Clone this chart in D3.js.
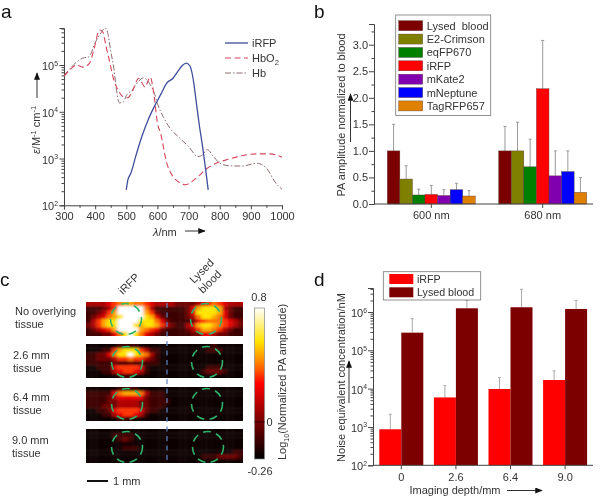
<!DOCTYPE html>
<html><head><meta charset="utf-8">
<script src="https://cdn.jsdelivr.net/npm/d3@7"></script>
<style>
html,body{margin:0;padding:0;background:#fff}
svg{display:block;filter:blur(0.35px)}
text{font-family:"Liberation Sans",Arial,sans-serif;fill:#333}
</style></head><body>
<script>
// Panel a: spectra
const iRFPLambda=[500,505,515,530,550,570,590,610,630,650,665,680,693,705,715,725,735,745,755,763];
const iRFPValues=[214,350,490,1100,2950,6700,12900,23000,41000,52000,72000,98000,110000,94000,49000,15500,4900,1800,570,214];
const hbo2Lambda=[300,320,340,360,380,395,410,415,425,435,445,460,475,490,505,520,540,560,577,590,600,610,630,650,670,690,710,730,760,790,830,870,920,960,1000];
const hbo2Values=[57000,80000,100000,90000,105000,200000,500000,560000,500000,250000,130000,48000,28000,21000,20000,28000,52000,34000,55000,20000,5800,3500,800,410,310,275,320,410,620,800,970,1150,1260,1260,1070];
const hbLambda=[300,320,340,360,380,400,420,432,440,450,460,470,478,490,500,520,540,555,575,590,600,620,640,670,700,730,745,760,780,800,830,870,920,950,980,1000];
const hbValues=[60000,85000,115000,140000,150000,300000,500000,620000,500000,200000,85000,25000,15500,16000,22000,30000,45000,53000,40000,25000,15000,7500,4500,2800,1800,1100,1200,1550,1100,800,700,690,790,620,300,220];
const aXTicks=[300,400,500,600,700,800,900,1000];
const aYTicks=[100,1000,10000,100000];
// Panel b
const bGroups=["600 nm","680 nm"];
const bSeries=["Lysed  blood","E2-Crimson","eqFP670","iRFP","mKate2","mNeptune","TagRFP657"];
const bColors=["#7d0000","#808000","#008000","#ff0000","#8000b0","#0000ff","#e08000"];
const b600=[1.0,0.47,0.17,0.18,0.16,0.27,0.15];
const b600Top=[1.5,0.72,0.28,0.35,0.27,0.39,0.25];
const b680=[1.0,1.0,0.7,2.17,0.53,0.61,0.22];
const b680Top=[1.46,1.54,1.22,3.08,1.0,1.0,0.5];
const bYTicks=[0,0.5,1,1.5,2,2.5,3];
// Panel c: heat grids, one digit per cell, 0 = dark, 9 = white
const heatNoTissue=[
"33334 56776 65433 33222 23456 54333",
"11123 59999 96311 11112 47888 73211",
"11235 79999 97521 11112 48888 74211",
"12346 78999 98742 11112 36887 64211",
"13578 89999 88864 21111 24566 65432",
"23578 89998 78875 32113 47887 65432",
"12345 79999 76542 11112 35776 53211",
"11122 46898 64321 11111 22443 22111"];
const heat26=[
"00000 01111 00000 00000 00001 00000",
"00011 57888 53110 00000 00011 10000",
"11224 68898 76310 00000 00000 00000",
"11222 35565 53210 00000 00000 00000",
"11111 21121 11110 00000 00000 00000",
"00111 45555 41000 00000 00011 10000",
"00011 34554 31000 00000 00122 21000",
"00000 01110 00000 00000 00000 00000"];
const heat64=[
"00000 01111 00000 00000 00000 00000",
"11111 46777 63111 00000 00000 00000",
"11112 34444 42111 00000 00000 00000",
"11112 23333 22111 10000 00000 00000",
"11122 23333 22111 00000 00000 00000",
"00112 45555 42110 00000 00000 00000",
"00011 34554 31000 00000 00000 00000",
"00000 01110 00000 00000 00000 00000"];
const heat90=[
"00000 00000 00000 00000 00000 00000",
"00000 11110 00000 00000 00000 00000",
"00000 01210 00000 00000 00000 00000",
"00000 00000 00000 00000 00000 00000",
"00000 00111 00000 00000 00000 00000",
"00000 00000 00000 00000 00000 00011",
"00000 00000 00000 00000 00111 22221",
"00000 00000 00000 00000 00000 00000"];
const heatColors=["#0c0000","#3c0000","#700000","#b00000","#e60000","#ff3000","#ff7400","#ffaa00","#ffe400","#ffffff"];
const heatRowsLabels=[["No overlying","tissue"],["2.6 mm","tissue"],["6.4 mm","tissue"],["9.0 mm","tissue"]];
// Panel d
const dGroups=["0","2.6","6.4","9.0"];
const dSeries=["iRFP","Lysed blood"];
const dColors=["#ff0000","#7d0000"];
const dIRFP=[870,5900,9800,16800];
const dIRFPTop=[2140,12000,19400,29000];
const dLysed=[289000,1250000,1330000,1200000];
const dLysedTop=[670000,2000000,3900000,2000000];
const dYTicks=[100,1000,10000,100000,1000000];

const svg=d3.select("body").append("svg").attr("width",600).attr("height",497);
const defs=svg.append("defs");
defs.append("marker").attr("id","ah").attr("viewBox","0 0 10 8").attr("refX",9).attr("refY",4)
 .attr("markerWidth",8).attr("markerHeight",6).attr("markerUnits","userSpaceOnUse").attr("orient","auto")
 .append("path").attr("d","M0,0L10,4L0,8Z").attr("fill","#111");
const AX="#444";
function arrow(x1,y1,x2,y2){svg.append("line").attr("x1",x1).attr("y1",y1).attr("x2",x2).attr("y2",y2)
 .attr("stroke","#333").attr("stroke-width",1).attr("marker-end","url(#ah)");}
function letter(t,x,y){svg.append("text").text(t).attr("x",x).attr("y",y).attr("font-size",19).style("fill","#111");}
function txt(t,x,y,o={}){return svg.append("text").text(t).attr("x",x).attr("y",y).attr("font-size",o.size||11)
 .attr("text-anchor",o.anchor||"start").attr("transform",o.rot?`rotate(${o.rot} ${x} ${y})`:null);}
function powTick(v,xRight,y,size){const e=Math.round(Math.log10(v));
 const t=svg.append("text").attr("x",xRight).attr("y",y).attr("text-anchor","end").attr("font-size",size);
 t.append("tspan").text("10");
 t.append("tspan").text(e).attr("font-size",size*0.62).attr("dy",-4.5);}
function logMinor(dom){const out=[];for(let e=Math.ceil(Math.log10(dom[0]));10**e<dom[1];e++)
 for(let m=2;m<10;m++){const v=m*10**e;if(v<dom[1])out.push(v);}return out;}

// ---------- a ----------
letter("a",1,17.5);
const ax=d3.scaleLinear().domain([300,1000]).range([64,282]);
const ay=d3.scaleLog().domain([100,100000]).range([205.3,65]);
const aTop=ay.invert(28);
const aAxisX=svg.append("g").attr("transform","translate(0,205.3)")
 .call(d3.axisBottom(ax).tickValues(aXTicks).tickFormat(d3.format("d")).tickSize(4).tickPadding(3));
aAxisX.selectAll("text").attr("font-size",11);
aAxisX.selectAll("path,line").attr("stroke",AX);
const aMinorX=svg.append("g").attr("transform","translate(0,205.3)")
 .call(d3.axisBottom(ax).tickValues(d3.range(350,1000,100)).tickFormat("").tickSize(2.5));
aMinorX.select("path").remove();aMinorX.selectAll("line").attr("stroke",AX);
const ayScaleFull=ay.copy().domain([100,aTop]).range([205.3,28]);
const aAxisY=svg.append("g").attr("transform","translate(64,0)")
 .call(d3.axisLeft(ayScaleFull).tickValues(aYTicks).tickFormat("").tickSize(4.5));
aAxisY.selectAll("path,line").attr("stroke",AX);
const aMinY=svg.append("g").attr("transform","translate(64,0)")
 .call(d3.axisLeft(ayScaleFull).tickValues(logMinor([100,aTop])).tickFormat("").tickSize(2.5));
aMinY.select("path").remove();aMinY.selectAll("line").attr("stroke",AX);
aYTicks.forEach(v=>powTick(v,58,ay(v)+5,11));
const mkLine=d3.line().x(d=>ax(d[0])).y(d=>ay(d[1])).curve(d3.curveMonotoneX);
const aSeries=[
 {l:hbLambda,v:hbValues,c:"#8d6d6f",d:"6 2 1.5 2",w:1},
 {l:hbo2Lambda,v:hbo2Values,c:"#d5455c",d:"6 3.5",w:1.1},
 {l:iRFPLambda,v:iRFPValues,c:"#3f4d9c",d:null,w:1.3}];
aSeries.forEach(s=>svg.append("path").attr("d",mkLine(s.l.map((x,i)=>[x,s.v[i]]))).attr("fill","none")
 .attr("stroke",s.c).attr("stroke-width",s.w).attr("stroke-dasharray",s.d));
[[iRFPLambda,"#3f4d9c",null,1.3,43,"iRFP"],[hbo2Lambda,"#d5455c","6 3.5",1.1,58,"HbO"],[hbLambda,"#8d6d6f","6 2 1.5 2",1,73,"Hb"]].forEach(r=>{
 svg.append("line").attr("x1",225).attr("x2",248).attr("y1",r[4]).attr("y2",r[4]).attr("stroke",r[1]).attr("stroke-width",r[3]).attr("stroke-dasharray",r[2]);
 const t=txt(r[5],252,r[4]+4,{size:11});
 if(r[5]==="HbO")t.append("tspan").text("2").attr("font-size",7.5).attr("dy",3);
});
const aYL=svg.append("text").attr("transform","translate(40,154) rotate(-90)").attr("font-size",11);
aYL.append("tspan").text("ε").attr("font-style","italic");
aYL.append("tspan").text("/M");
aYL.append("tspan").text("-1").attr("font-size",7.5).attr("dy",-4);
aYL.append("tspan").text(" cm").attr("dy",4);
aYL.append("tspan").text("-1").attr("font-size",7.5).attr("dy",-4);
arrow(37,98,37,73);
const aXL=svg.append("text").attr("x",153).attr("y",236).attr("font-size",11);
aXL.append("tspan").text("λ").attr("font-style","italic");
aXL.append("tspan").text("/nm");
arrow(185,231,205,231);

// ---------- b ----------
letter("b",314,17.5);
const bx=d3.scaleBand().domain(bGroups).range([375.6,598.4]).paddingInner(0.21).paddingOuter(0.105);
const bx1=d3.scaleBand().domain(bSeries).range([0,bx.bandwidth()]);
const by=d3.scaleLinear().domain([0,3]).range([204,44.7]);
const bTopVal=by.invert(24);
const byFull=by.copy().domain([0,bTopVal]).range([204,24]);
const bData=[[b600,b600Top],[b680,b680Top]];
bGroups.forEach((g,gi)=>{
 const grp=svg.append("g").attr("transform",`translate(${bx(g)},0)`);
 grp.selectAll("line.e").data(bSeries).join("line").attr("x1",s=>bx1(s)+bx1.bandwidth()/2).attr("x2",s=>bx1(s)+bx1.bandwidth()/2)
  .attr("y1",(s,i)=>by(bData[gi][0][i])).attr("y2",(s,i)=>by(bData[gi][1][i])).attr("stroke","#999").attr("stroke-width",1);
 grp.selectAll("line.c").data(bSeries).join("line").attr("x1",s=>bx1(s)+bx1.bandwidth()/2-1.5).attr("x2",s=>bx1(s)+bx1.bandwidth()/2+1.5)
  .attr("y1",(s,i)=>by(bData[gi][1][i])).attr("y2",(s,i)=>by(bData[gi][1][i])).attr("stroke","#999").attr("stroke-width",1);
 grp.selectAll("rect").data(bSeries).join("rect").attr("x",s=>bx1(s)).attr("width",bx1.bandwidth())
  .attr("y",(s,i)=>by(bData[gi][0][i])).attr("height",(s,i)=>204-by(bData[gi][0][i]))
  .attr("fill",(s,i)=>bColors[i]).attr("stroke","#5a3a3a").attr("stroke-width",0.4);
});
const bAxisY=svg.append("g").attr("transform","translate(374,0)")
 .call(d3.axisLeft(byFull).tickValues(bYTicks).tickFormat(d3.format(".1f")).tickSize(5).tickPadding(1));
bAxisY.selectAll("text").attr("font-size",11);
bAxisY.selectAll("path,line").attr("stroke",AX);
const bMinY=svg.append("g").attr("transform","translate(374,0)")
 .call(d3.axisLeft(byFull).tickValues(d3.range(0.25,3.3,0.5)).tickFormat("").tickSize(2.5));
bMinY.select("path").remove();bMinY.selectAll("line").attr("stroke",AX);
svg.append("line").attr("x1",374).attr("x2",593).attr("y1",204).attr("y2",204).attr("stroke",AX);
const bAxisX=svg.append("g").attr("transform","translate(0,204)")
 .call(d3.axisBottom(bx).tickSize(4).tickPadding(3));
bAxisX.select("path").remove();
bAxisX.selectAll("text").attr("font-size",11);
bAxisX.selectAll("line").attr("stroke",AX);
txt("PA amplitude normalized to blood",344.5,115,{anchor:"middle",rot:-90,size:11});
arrow(350.5,142,350.5,94);
svg.append("rect").attr("x",395.7).attr("y",15).attr("width",95).attr("height",100.5).attr("fill","#fff").attr("stroke","#777").attr("stroke-width",0.8);
bSeries.forEach((s,i)=>{const yy=25.7+i*13.37;
 svg.append("rect").attr("x",398.7).attr("y",yy-5).attr("width",24).attr("height",10).attr("fill",bColors[i]).attr("stroke","#5a3a3a").attr("stroke-width",0.4);
 txt(s,426.7,yy+4,{size:11}).style("white-space","pre");
});

// ---------- c ----------
letter("c",0,285.5);
const heatGrids=[heatNoTissue,heat26,heat64,heat90];
const heatY=[302,344,387,429];
const heatH=34, heatX0=86, heatX1=243;
const heatScale=d3.scaleLinear().domain(d3.range(10)).range(heatColors);
const blur=defs.append("filter").attr("id","hb").attr("x","-10%").attr("y","-30%").attr("width","120%").attr("height","160%");
blur.append("feGaussianBlur").attr("stdDeviation","1.4 0.9");
heatGrids.forEach((grid,pi)=>{
 const rows=grid.map(r=>r.replace(/ /g,"").split("").map(Number));
 const cx=d3.scaleBand().domain(d3.range(rows[0].length)).range([heatX0,heatX1]);
 const cy=d3.scaleBand().domain(d3.range(rows.length)).range([heatY[pi],heatY[pi]+heatH]);
 defs.append("clipPath").attr("id","hc"+pi).append("rect").attr("x",heatX0).attr("y",heatY[pi]).attr("width",heatX1-heatX0).attr("height",heatH);
 const g=svg.append("g").attr("clip-path",`url(#hc${pi})`).append("g").attr("filter","url(#hb)");
 rows.forEach((row,ri)=>row.forEach((v,ci)=>{
  const pad=6, L=ci===0?pad:0, R=ci===row.length-1?pad:0, T=ri===0?pad:0, B=ri===rows.length-1?pad:0;
  g.append("rect").attr("x",cx(ci)-L).attr("y",cy(ri)-T).attr("width",cx.bandwidth()+L+R+0.3).attr("height",cy.bandwidth()+T+B+0.3).attr("fill",heatScale(v));
 }));
});
const circX=[[126,206],[127,207],[127,207],[127,208]];
const circY=[319,362,404,447];
circX.forEach((pair,i)=>pair.forEach(x=>{
 svg.append("circle").attr("cx",x).attr("cy",circY[i]).attr("r",15.5).attr("fill","none")
  .attr("stroke","#2db36b").attr("stroke-width",1.6).attr("stroke-dasharray","8 5.5");
}));
svg.append("line").attr("x1",167).attr("x2",167).attr("y1",303).attr("y2",462).attr("stroke","#5f86c8").attr("stroke-width",1.2).attr("stroke-dasharray","5 4.5");
heatRowsLabels.forEach((r,i)=>{
 const lx=[15,13,13,12][i], ly=[315,359,401,444][i];
 txt(r[0],lx,ly,{size:11});txt(r[1],lx,ly+13,{size:11});
});
txt("iRFP",123,295,{rot:-45,size:11});
txt("Lysed",194,284,{rot:-45,size:11});
txt("blood",203,294,{rot:-45,size:11});
svg.append("line").attr("x1",87).attr("x2",108).attr("y1",481).attr("y2",481).attr("stroke","#111").attr("stroke-width",2);
txt("1 mm",113,485,{size:11});
// colour bar
const cbTicks=[0.8,0,-0.26];
const cbScale=d3.scaleLinear().domain([-0.26,0.8]).range([459,308]);
const cbGrad=defs.append("linearGradient").attr("id","cb").attr("x1",0).attr("x2",0).attr("y1",1).attr("y2",0);
const cbStops=[["0%","#000000"],["25%","#780000"],["50%","#ff0000"],["62%","#ff7400"],["78%","#ffe400"],["100%","#ffffff"]];
cbStops.forEach(s=>cbGrad.append("stop").attr("offset",s[0]).attr("stop-color",s[1]));
svg.append("rect").attr("x",254.5).attr("y",cbScale(0.8)).attr("width",10).attr("height",cbScale(-0.26)-cbScale(0.8))
 .attr("fill","url(#cb)").attr("stroke","#888").attr("stroke-width",0.7);
svg.append("line").attr("x1",254.5).attr("x2",264.5).attr("y1",cbScale(0)).attr("y2",cbScale(0)).attr("stroke","#300");
txt(cbTicks[0].toFixed(1),259,301,{anchor:"middle",size:11});
txt("0",266.5,426,{size:11});
txt(cbTicks[2],260,475,{anchor:"middle",size:11});
const cbL=svg.append("text").attr("transform","translate(286,460) rotate(-90)").attr("font-size",11);
cbL.append("tspan").text("Log");
cbL.append("tspan").text("10").attr("font-size",7).attr("dy",3);
cbL.append("tspan").text("(Normalized PA amplitude)").attr("dy",-3);

// ---------- d ----------
letter("d",314,286);
const dx=d3.scaleBand().domain(dGroups).range([374,592.4]).paddingInner(0.194).paddingOuter(0.097);
const dx1=d3.scaleBand().domain(dSeries).range([0,dx.bandwidth()]);
const dy=d3.scaleLog().domain([100,1000000]).range([465.3,312]);
const dTopV=dy.invert(288);
const dyFull=dy.copy().domain([100,dTopV]).range([465.3,288]);
const dData=[[dIRFP,dIRFPTop],[dLysed,dLysedTop]];
dSeries.forEach((s,si)=>{
 const [vals,tops]=dData[si];
 const xc=g=>dx(g)+dx1(s)+dx1.bandwidth()/2;
 svg.selectAll(null).data(dGroups).join("line").attr("x1",xc).attr("x2",xc).attr("y1",(g,i)=>dy(vals[i])).attr("y2",(g,i)=>dy(tops[i])).attr("stroke","#aaa").attr("stroke-width",1);
 svg.selectAll(null).data(dGroups).join("line").attr("x1",g=>xc(g)-1.5).attr("x2",g=>xc(g)+1.5).attr("y1",(g,i)=>dy(tops[i])).attr("y2",(g,i)=>dy(tops[i])).attr("stroke","#aaa").attr("stroke-width",1);
 svg.selectAll(null).data(dGroups).join("rect").attr("x",g=>dx(g)+dx1(s)).attr("width",dx1.bandwidth())
  .attr("y",(g,i)=>dy(vals[i])).attr("height",(g,i)=>465.3-dy(vals[i])).attr("fill",dColors[si]);
});
const dAxisY=svg.append("g").attr("transform","translate(373,0)")
 .call(d3.axisLeft(dyFull).tickValues(dYTicks).tickFormat("").tickSize(5));
dAxisY.selectAll("path,line").attr("stroke",AX);
const dMinY=svg.append("g").attr("transform","translate(373,0)")
 .call(d3.axisLeft(dyFull).tickValues(logMinor([100,dTopV])).tickFormat("").tickSize(2.5));
dMinY.select("path").remove();dMinY.selectAll("line").attr("stroke",AX);
dYTicks.forEach(v=>powTick(v,367,dy(v)+5,11));
svg.append("line").attr("x1",373).attr("x2",593).attr("y1",465.3).attr("y2",465.3).attr("stroke",AX);
const dAxisX=svg.append("g").attr("transform","translate(0,465.3)").call(d3.axisBottom(dx).tickSize(4).tickPadding(4));
dAxisX.select("path").remove();
dAxisX.selectAll("text").attr("font-size",11);
dAxisX.selectAll("line").attr("stroke",AX);
txt("Noise equivalent concentration/nM",345,377.5,{anchor:"middle",rot:-90,size:11});
arrow(349,403,349,361);
txt("Imaging depth/mm",455,494,{anchor:"middle",size:11});
arrow(507,490.5,542,490.5);
svg.append("rect").attr("x",383.3).attr("y",271.7).attr("width",97.4).attr("height",28.3).attr("fill","#fff").attr("stroke","#777").attr("stroke-width",0.8);
dSeries.forEach((s,i)=>{const yy=279+i*13.3;
 svg.append("rect").attr("x",389.3).attr("y",yy-5).attr("width",24).attr("height",10).attr("fill",dColors[i]);
 txt(s,417,yy+4,{size:10.7});
});
</script>
</body></html>
